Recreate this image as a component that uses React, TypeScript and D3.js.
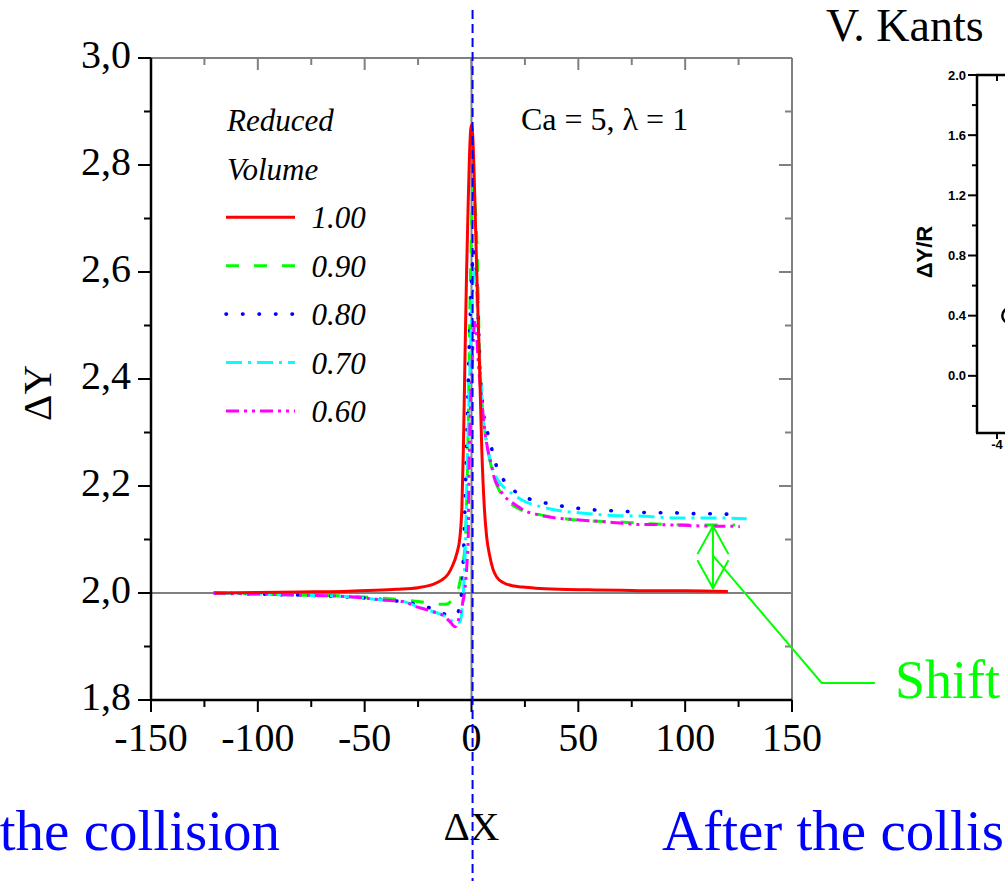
import React from 'react';
import * as d3 from 'd3';

// ---------- Data ----------
const X_TICKS = [-150, -100, -50, 0, 50, 100, 150];
const X_MINOR = [-125, -75, -25, 25, 75, 125];
const Y_TICKS = [1.8, 2.0, 2.2, 2.4, 2.6, 2.8, 3.0];
const Y_TICK_LABELS = ['1,8', '2,0', '2,2', '2,4', '2,6', '2,8', '3,0'];
const Y_MINOR = [1.9, 2.1, 2.3, 2.5, 2.7, 2.9];

const SERIES_NAMES = ['1.00', '0.90', '0.80', '0.70', '0.60'];
const SERIES_COLORS = ['#ff0000', '#00ff00', '#0000ff', '#00ffff', '#ff00ff'];

const RED_X = [-120, -100, -80, -60, -45, -35, -25, -18, -14, -11, -9, -7, -5.4, -4.5, -3.8, -3.0, -2.3, -1.6, -1.0, -0.4, 0, 0.5, 1.1, 1.8, 2.6, 3.6, 4.8, 6.0, 7.1, 8.5, 10, 11.8, 15, 20, 24, 30, 41, 55, 70, 85, 100, 120];
const RED_Y = [2.000, 2.001, 2.002, 2.003, 2.005, 2.007, 2.010, 2.016, 2.024, 2.035, 2.050, 2.072, 2.105, 2.16, 2.27, 2.45, 2.60, 2.72, 2.81, 2.865, 2.875, 2.86, 2.80, 2.70, 2.58, 2.45, 2.27, 2.16, 2.105, 2.07, 2.045, 2.030, 2.019, 2.013, 2.011, 2.009, 2.007, 2.006, 2.005, 2.004, 2.004, 2.003];

const GREEN_X = [-120, -100, -80, -57, -45, -32, -25, -19.4, -15, -13.3, -11, -10, -8.7, -7.7, -6, -4.6, -3.6, -3, -2.2, -1.5, -0.8, 0, 0.8, 1.6, 2.4, 3.0, 3.6, 4.4, 5.5, 6.5, 7.7, 9.6, 12, 15.7, 21.9, 31.3, 45.3, 55.5, 67.9, 81.2, 92.9, 105.4, 123.3];
const GREEN_Y = [2.000, 1.998, 1.996, 1.994, 1.991, 1.987, 1.984, 1.981, 1.979, 1.979, 1.980, 1.983, 1.987, 1.993, 2.010, 2.040, 2.065, 2.09, 2.18, 2.32, 2.52, 2.68, 2.76, 2.73, 2.67, 2.58, 2.47, 2.39, 2.33, 2.295, 2.267, 2.23, 2.20, 2.177, 2.158, 2.147, 2.138, 2.135, 2.133, 2.130, 2.128, 2.127, 2.127];

const BLUE_X = [-120, -100, -80, -60, -45, -35, -25, -18, -14, -11.6, -9, -7.5, -6.2, -5, -4.2, -3.5, -2.8, -2, -1, 0, 1, 2, 3, 4, 5, 6.3, 7.5, 8.7, 10, 11.8, 14.6, 18.3, 23, 28.5, 34.9, 41.4, 48.4, 55.4, 62.8, 70.3, 77.6, 85.1, 92.6, 100.4, 108, 115.5, 123.3];
const BLUE_Y = [2.000, 1.998, 1.996, 1.993, 1.989, 1.985, 1.978, 1.970, 1.963, 1.959, 1.958, 1.960, 1.965, 1.985, 2.03, 2.10, 2.20, 2.32, 2.47, 2.58, 2.64, 2.62, 2.53, 2.42, 2.36, 2.318, 2.30, 2.283, 2.26, 2.236, 2.214, 2.197, 2.183, 2.174, 2.168, 2.163, 2.159, 2.156, 2.154, 2.153, 2.151, 2.150, 2.150, 2.149, 2.148, 2.148, 2.146];

const CYAN_X = [-120, -100, -80, -57, -41.4, -32, -25.6, -17.9, -13, -10, -7.5, -5.4, -4.5, -3.8, -3, -2.2, -1.4, -0.6, 0.3, 1.2, 2, 2.8, 3.6, 4.5, 5.4, 6.5, 7.7, 9, 10.5, 12.5, 14.5, 16.5, 20, 25, 29, 33.6, 38, 44.5, 50, 58.6, 66, 75.7, 83, 91.3, 99, 106.9, 118, 128.8];
const CYAN_Y = [2.000, 1.998, 1.996, 1.993, 1.987, 1.984, 1.975, 1.965, 1.958, 1.950, 1.944, 1.946, 1.965, 2.00, 2.07, 2.20, 2.33, 2.44, 2.54, 2.60, 2.59, 2.52, 2.45, 2.39, 2.33, 2.295, 2.267, 2.245, 2.226, 2.21, 2.20, 2.193, 2.183, 2.171, 2.165, 2.160, 2.156, 2.152, 2.150, 2.147, 2.145, 2.144, 2.143, 2.141, 2.140, 2.140, 2.140, 2.139];

const MAGENTA_X = [-121, -100, -80, -56.9, -41.4, -32, -25.6, -17.9, -13.3, -10, -7.7, -6.5, -5.4, -4.2, -3, -2.2, -1.5, -1.2, -0.8, 0, 0.8, 1.6, 2.4, 3.2, 4.3, 5.5, 6.7, 7.9, 8.7, 11, 12.5, 14.9, 18, 21.2, 25.8, 29.5, 33.6, 38, 43, 49, 55.5, 62, 69.5, 78.9, 86, 94.4, 102, 110, 118, 125.6];
const MAGENTA_Y = [2.000, 1.998, 1.996, 1.993, 1.987, 1.984, 1.974, 1.965, 1.958, 1.946, 1.937, 1.945, 1.960, 1.980, 2.010, 2.050, 2.11, 2.22, 2.30, 2.40, 2.47, 2.51, 2.48, 2.43, 2.38, 2.33, 2.29, 2.262, 2.249, 2.211, 2.200, 2.183, 2.172, 2.163, 2.152, 2.148, 2.144, 2.141, 2.139, 2.137, 2.135, 2.133, 2.131, 2.128, 2.128, 2.127, 2.126, 2.125, 2.125, 2.124];

// shift annotation (data units)
const SHIFT_X = 113;
const SHIFT_TOP = 2.125;
const SHIFT_BOTTOM = 2.009;
const SHIFT_LEADER = [[113, 2.07], [163.9, 1.832], [188.8, 1.832]];
const REF_LINE_X = 0.5;

// inset (partially visible second chart)
const INSET_Y_TICKS = [0.0, 0.4, 0.8, 1.2, 1.6, 2.0];
const INSET_Y_LABELS = ['0.0', '0.4', '0.8', '1.2', '1.6', '2.0'];
const INSET_Y_MINOR = [-0.2, 0.2, 0.6, 1.0, 1.4, 1.8];
const INSET_X_TICKS = [-4];
const INSET_X_LABELS = ['-4'];
const INSET_POINTS_X = [-3.68];
const INSET_POINTS_Y = [0.4];

const SERIES = [
  { name: SERIES_NAMES[1], color: SERIES_COLORS[1], xs: GREEN_X, ys: GREEN_Y, dash: '13 15', cap: 'butt' },
  { name: SERIES_NAMES[2], color: SERIES_COLORS[2], xs: BLUE_X, ys: BLUE_Y, dash: '0.5 16', cap: 'round' },
  { name: SERIES_NAMES[3], color: SERIES_COLORS[3], xs: CYAN_X, ys: CYAN_Y, dash: '16 6 3 6', cap: 'butt' },
  { name: SERIES_NAMES[4], color: SERIES_COLORS[4], xs: MAGENTA_X, ys: MAGENTA_Y, dash: '13 5 3 5 3 5', cap: 'butt' },
  { name: SERIES_NAMES[0], color: SERIES_COLORS[0], xs: RED_X, ys: RED_Y, dash: null, cap: 'butt' },
];
const LEGEND = [
  { name: SERIES_NAMES[0], color: SERIES_COLORS[0], dash: null, cap: 'butt', w: 3 },
  { name: SERIES_NAMES[1], color: SERIES_COLORS[1], dash: '13 15', cap: 'butt', w: 3 },
  { name: SERIES_NAMES[2], color: SERIES_COLORS[2], dash: '0.5 16', cap: 'round', w: 3.6 },
  { name: SERIES_NAMES[3], color: SERIES_COLORS[3], dash: '16 6 3 6', cap: 'butt', w: 3 },
  { name: SERIES_NAMES[4], color: SERIES_COLORS[4], dash: '13 5 3 5 3 5', cap: 'butt', w: 3 },
];

const W = 1005;
const H = 881;
const PL = 151, PR = 792, PT = 58, PB = 700;
const SERIF = '"Liberation Serif", "Times New Roman", serif';
const SANS = '"Liberation Sans", Arial, sans-serif';
const GRAY = '#808080';

export default function App() {
  const x = d3.scaleLinear().domain([-150, 150]).range([PL, PR]);
  const y = d3.scaleLinear().domain([1.8, 3.0]).range([PB, PT]);
  const line = d3.line<[number, number]>()
    .x(d => x(d[0]))
    .y(d => y(d[1]))
    .curve(d3.curveMonotoneX);

  const iy = d3.scaleLinear().domain([-0.38, 2.0]).range([433, 75]);
  const ix = d3.scaleLinear().domain([-4.5, 4.5]).range([977, 1337]);

  const leader = d3.line<number[]>().x(d => x(d[0])).y(d => y(d[1]));

  return (
    <svg width={W} height={H} style={{ position: 'absolute', left: 0, top: 0, background: '#fff' }}>
      <rect x={0} y={0} width={W} height={H} fill="#fff" />

      {/* reference lines */}
      <line x1={PL} x2={PR} y1={y(2.0)} y2={y(2.0)} stroke={GRAY} strokeWidth={2} />
      <line x1={x(0)} x2={x(0)} y1={PT} y2={PB} stroke={GRAY} strokeWidth={2} />

      {/* top & right frame (gray) with inward ticks */}
      <line x1={PL} x2={PR} y1={PT} y2={PT} stroke={GRAY} strokeWidth={2} />
      <line x1={PR} x2={PR} y1={PT} y2={PB} stroke={GRAY} strokeWidth={2} />
      {X_TICKS.map(t => (
        <line key={'tt' + t} x1={x(t)} x2={x(t)} y1={PT} y2={PT + 12} stroke={GRAY} strokeWidth={2} />
      ))}
      {X_MINOR.map(t => (
        <line key={'tm' + t} x1={x(t)} x2={x(t)} y1={PT} y2={PT + 7} stroke={GRAY} strokeWidth={2} />
      ))}
      {Y_TICKS.map(t => (
        <line key={'rt' + t} x1={PR} x2={PR - 13} y1={y(t)} y2={y(t)} stroke={GRAY} strokeWidth={2} />
      ))}
      {Y_MINOR.map(t => (
        <line key={'rm' + t} x1={PR} x2={PR - 7} y1={y(t)} y2={y(t)} stroke={GRAY} strokeWidth={2} />
      ))}

      {/* series */}
      {SERIES.map(s => (
        <path
          key={s.name}
          d={line(s.xs.map((v, i) => [v, s.ys[i]] as [number, number])) || ''}
          fill="none"
          stroke={s.color}
          strokeWidth={s.cap === 'round' ? 3.6 : 3}
          strokeDasharray={s.dash || undefined}
          strokeLinecap={s.cap as any}
        />
      ))}

      {/* left & bottom axes (black) */}
      <line x1={PL} x2={PL} y1={PT} y2={PB + 1} stroke="#000" strokeWidth={2.5} />
      <line x1={PL - 1} x2={PR} y1={PB} y2={PB} stroke="#000" strokeWidth={2.5} />
      {Y_TICKS.map((t, i) => (
        <g key={'yl' + t}>
          <line x1={PL} x2={PL - 13} y1={y(t)} y2={y(t)} stroke="#000" strokeWidth={2} />
          <text x={131} y={y(t) + 10} textAnchor="end" fontFamily={SERIF} fontSize={40} fill="#000">
            {Y_TICK_LABELS[i]}
          </text>
        </g>
      ))}
      {Y_MINOR.map(t => (
        <line key={'ym' + t} x1={PL} x2={PL - 7} y1={y(t)} y2={y(t)} stroke="#000" strokeWidth={2} />
      ))}
      {X_TICKS.map(t => (
        <g key={'xl' + t}>
          <line x1={x(t)} x2={x(t)} y1={PB} y2={PB + 12} stroke="#000" strokeWidth={2} />
          <text x={x(t)} y={751} textAnchor="middle" fontFamily={SERIF} fontSize={40} fill="#000">
            {t}
          </text>
        </g>
      ))}
      {X_MINOR.map(t => (
        <line key={'xm' + t} x1={x(t)} x2={x(t)} y1={PB} y2={PB + 7} stroke="#000" strokeWidth={2} />
      ))}

      {/* axis titles */}
      <text transform={`translate(51,${393}) rotate(-90)`} textAnchor="middle" fontFamily={SERIF} fontSize={41} fill="#000">ΔY</text>
      <text x={x(0)} y={840} textAnchor="middle" fontFamily={SERIF} fontSize={41} fill="#000">ΔX</text>

      {/* legend */}
      <text x={227} y={131} fontFamily={SERIF} fontStyle="italic" fontSize={31} fill="#000">Reduced</text>
      <text x={227} y={180} fontFamily={SERIF} fontStyle="italic" fontSize={31} fill="#000">Volume</text>
      {LEGEND.map((l, i) => {
        const ly = 217.3 + i * 48.4;
        return (
          <g key={'lg' + l.name}>
            <line x1={226} x2={295} y1={ly} y2={ly} stroke={l.color} strokeWidth={l.w}
              strokeDasharray={l.dash || undefined} strokeLinecap={l.cap as any} />
            <text x={311.5} y={ly + 11} fontFamily={SERIF} fontStyle="italic" fontSize={31} fill="#000">{l.name}</text>
          </g>
        );
      })}

      <text x={521} y={130} fontFamily={SERIF} fontSize={32} fill="#000">Ca = 5, λ = 1</text>

      {/* shift annotation */}
      <g stroke="#00ff00" strokeWidth={2} fill="none">
        <line x1={x(SHIFT_X)} x2={x(SHIFT_X)} y1={y(SHIFT_TOP)} y2={y(SHIFT_BOTTOM)} />
        <polyline points={`${x(SHIFT_X) - 15.5},${y(SHIFT_TOP) + 28} ${x(SHIFT_X)},${y(SHIFT_TOP)} ${x(SHIFT_X) + 15.5},${y(SHIFT_TOP) + 28}`} />
        <polyline points={`${x(SHIFT_X) - 15.5},${y(SHIFT_BOTTOM) - 28} ${x(SHIFT_X)},${y(SHIFT_BOTTOM)} ${x(SHIFT_X) + 15.5},${y(SHIFT_BOTTOM) - 28}`} />
        <path d={leader(SHIFT_LEADER) || ''} />
      </g>
      <text x={895} y={698} fontFamily={SERIF} fontSize={54} fill="#00ff00">Shift</text>

      {/* vertical blue dashed collision line */}
      <line x1={x(REF_LINE_X)} x2={x(REF_LINE_X)} y1={10} y2={H} stroke="#0000ff" strokeWidth={2} strokeDasharray="9 5" />

      {/* bottom captions (visible parts of the slide text) */}
      <text x={280} y={850} textAnchor="end" fontFamily={SERIF} fontSize={57} fill="#0000ff">the collision</text>
      <text x={662} y={850} fontFamily={SERIF} fontSize={57} fill="#0000ff">After the collis</text>

      {/* title fragment */}
      <text x={826} y={41} fontFamily={SERIF} fontSize={46} fill="#000">V. Kants</text>

      {/* inset second chart (partially visible) */}
      <g>
        <line x1={977} x2={977} y1={iy(2.0)} y2={433} stroke="#000" strokeWidth={2.5} />
        <line x1={976} x2={W} y1={iy(2.0)} y2={iy(2.0)} stroke="#000" strokeWidth={2.5} />
        <line x1={976} x2={W} y1={433} y2={433} stroke="#000" strokeWidth={2.5} />
        {INSET_Y_TICKS.map((t, i) => (
          <g key={'iy' + t}>
            <line x1={977} x2={968} y1={iy(t)} y2={iy(t)} stroke="#000" strokeWidth={2} />
            <text x={966} y={iy(t) + 4.5} textAnchor="end" fontFamily={SANS} fontWeight="bold" fontSize={13} fill="#000">{INSET_Y_LABELS[i]}</text>
          </g>
        ))}
        {INSET_Y_MINOR.map(t => (
          <line key={'iym' + t} x1={977} x2={972} y1={iy(t)} y2={iy(t)} stroke="#000" strokeWidth={2} />
        ))}
        {INSET_X_TICKS.map((t, i) => (
          <g key={'ix' + t}>
            <line x1={ix(t)} x2={ix(t)} y1={433} y2={439} stroke="#000" strokeWidth={2} />
            <line x1={ix(t)} x2={ix(t)} y1={iy(2.0)} y2={iy(2.0) + 6} stroke="#000" strokeWidth={2} />
            <text x={ix(t)} y={449} textAnchor="middle" fontFamily={SANS} fontWeight="bold" fontSize={13} fill="#000">{INSET_X_LABELS[i]}</text>
          </g>
        ))}
        <text transform={`translate(932,252) rotate(-90)`} textAnchor="middle" fontFamily={SANS} fontWeight="bold" fontSize={22} fill="#000">ΔY/R</text>
        {INSET_POINTS_X.map((v, i) => (
          <circle key={'ip' + i} cx={ix(v)} cy={iy(INSET_POINTS_Y[i])} r={7.5} fill="none" stroke="#000" strokeWidth={2.5} />
        ))}
      </g>
    </svg>
  );
}
